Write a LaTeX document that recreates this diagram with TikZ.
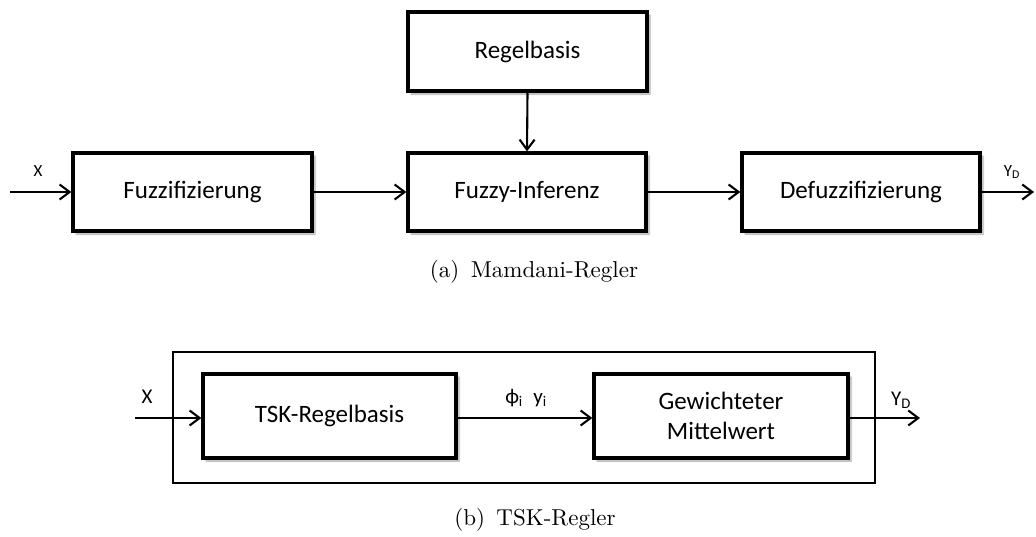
\documentclass[tikz,border=0pt]{standalone}
\usepackage{fontspec}
\setmainfont{Latin Modern Roman}
\newfontfamily\boxfont{Carlito}
\newfontfamily\capfont{lmroman10-regular}[Extension=.otf]
\usetikzlibrary{arrows.meta,shadows.blur}
\begin{document}
\begin{tikzpicture}[x=1pt,y=-1pt,
  blk/.style={draw,line width=3.3pt,fill=white,inner sep=0pt,
    font=\boxfont\fontsize{25}{30}\selectfont,align=center,
    blur shadow={shadow xshift=3pt,shadow yshift=-3pt,shadow opacity=35,shadow blur steps=6}},
  flow/.style={line width=2.1pt,-{Straight Barb[length=10pt,width=15pt,line width=2.1pt]}},
  sig/.style={font=\boxfont\fontsize{17}{20}\selectfont,inner sep=0pt},
  sigb/.style={font=\boxfont\fontsize{21}{24}\selectfont,inner sep=0pt},
  captext/.style={font=\capfont\fontsize{23}{28}\selectfont,inner sep=0pt}]
\useasboundingbox (0,0) rectangle (1036,536);

% (a) Mamdani controller chain
\node[blk,minimum width=239pt,minimum height=79pt] (rb) at (527.5,51.5) {Regelbasis};
\node[blk,minimum width=239pt,minimum height=78pt] (fz) at (192.5,192) {Fuzzifizierung};
\node[blk,minimum width=238pt,minimum height=78pt] (fi) at (527,192) {Fuzzy-Inferenz};
\node[blk,minimum width=238pt,minimum height=78pt] (df) at (861,192) {Defuzzifizierung};
\coordinate (xin) at (10,192);
\coordinate (yout) at (1034,192);
\draw[flow] (xin) -- (fz.west);
\draw[flow] (fz.east) -- (fi.west);
\draw[flow] (fi.east) -- (df.west);
\draw[flow] (df.east) -- (yout);
\draw[flow] (rb.south) -- (fi.north);
\node[sig] (lx) at (38,171) {X};
\node[sig] (ly) at (1012,172) {Y\textsubscript{D}};
\node[captext] (capa) at (534,272) {(a)\enspace Mamdani-Regler};

% (b) TSK controller
\node[draw,line width=1.7pt,minimum width=702pt,minimum height=131pt,inner sep=0pt] (frame) at (524,417.5) {};
\node[blk,minimum width=253pt,minimum height=84pt] (tsk) at (329.5,416) {TSK-Regelbasis};
\node[blk,minimum width=254pt,minimum height=84pt] (gm) at (721,416) {Gewichteter\\Mittelwert};
\coordinate (xin2) at (135,418);
\coordinate (yout2) at (920,418);
\draw[flow] (xin2) -- (tsk.west |- xin2);
\draw[flow] (tsk.east |- xin2) -- (gm.west |- xin2);
\draw[flow] (gm.east |- xin2) -- (yout2);
\node[sigb] (lx2) at (147,397) {X};
\node[sigb] (lphi) at (526,398) {ϕ\textsubscript{i}\enspace y\textsubscript{i}};
\node[sigb] (ly2) at (901,400) {Y\textsubscript{D}};
\node[captext] (capb) at (535,520) {(b)\enspace TSK-Regler};
\end{tikzpicture}
\end{document}
